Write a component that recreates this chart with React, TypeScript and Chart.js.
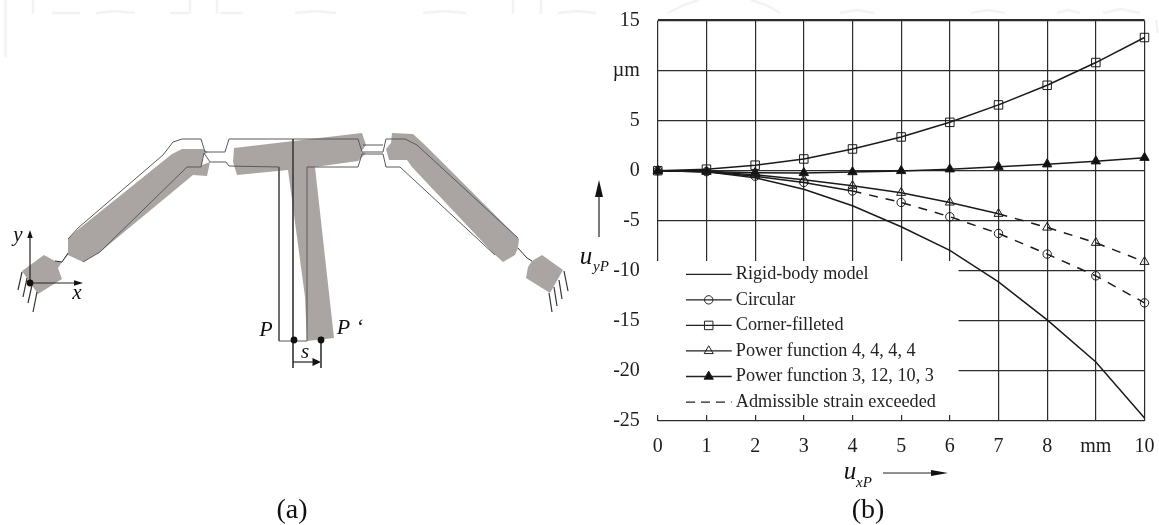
import React, { useEffect, useRef } from "react";
import { Chart, registerables } from "chart.js";
import { drawPoint } from "chart.js/helpers";

Chart.register(...registerables);

// ---- panel (b) data ----
const displacement = [0, 1, 2, 3, 4, 5, 6, 7, 8, 9, 10];
const rigidBody = [0, -0.1, -0.7, -1.85, -3.5, -5.6, -7.95, -11.1, -14.9, -19.1, -24.7];
const circular = [0, -0.1, -0.55, -1.17, -2.03, -3.17, -4.6, -6.27, -8.33, -10.5, -13.2];
const cornerFilleted = [0, 0.15, 0.55, 1.17, 2.17, 3.37, 4.83, 6.57, 8.53, 10.8, 13.3];
const power4444 = [0, -0.1, -0.4, -0.9, -1.5, -2.2, -3.17, -4.3, -5.67, -7.2, -9.1];
const power31210 = [0, -0.08, -0.2, -0.22, -0.13, -0.02, 0.15, 0.4, 0.65, 0.95, 1.3];
const xTickLabels = ["0", "1", "2", "3", "4", "5", "6", "7", "8", "mm", "10"];
const yTickLabels: Record<string, string> = { "15": "15", "10": "µm", "5": "5", "0": "0", "-5": "-5", "-10": "-10", "-15": "-15", "-20": "-20", "-25": "-25" };
const seriesNames = ["Rigid-body model", "Circular", "Corner-filleted", "Power function 4, 4, 4, 4", "Power function 3, 12, 10, 3", "Admissible strain exceeded"];
const circularLimit = 4;
const powerLimit = 7;

// ---- panel (a) schematic outlines, in picture units ----
type P = [number, number];
const greyBaseLeft: P[] = [[22, 271], [44, 255], [55, 261], [62, 262], [58, 268], [62, 279], [38, 294]];
const greyArmLeft: P[] = [[62, 262], [68, 253], [68, 239], [75, 232], [172, 154], [182, 149], [203, 149], [208, 152], [203, 155], [202, 165], [210, 162], [207, 176], [193, 175], [100, 252], [83, 262], [68, 255]];
const greyTee: P[] = [[234, 148], [362, 133], [366, 145], [361, 152], [366, 153], [358, 161], [315, 167], [334, 338], [307, 341], [305, 297], [288, 170], [237, 175], [233, 162]];
const greyArmRight: P[] = [[392, 133], [413, 134], [425, 145], [519, 239], [518, 248], [515, 255], [503, 262], [493, 253], [412, 167], [407, 160], [389, 160], [386, 149], [391, 143]];
const greyBaseRight: P[] = [[532, 261], [542, 255], [563, 270], [550, 293], [526, 278], [528, 267]];
const outlineUpper: P[] = [[68, 239], [78, 228], [163, 155], [173, 142], [182, 139], [201, 139], [205, 152], [225, 152], [229, 139], [358, 139], [362, 152], [383, 152], [386, 139], [405, 139], [417, 145], [518, 238]];
const outlineLower: P[] = [[83, 262], [100, 252], [187, 167], [201, 167], [204, 153], [210, 162], [226, 162], [229, 166], [279, 167], [279, 341], [307, 341], [307, 167], [358, 167], [362, 154], [383, 154], [386, 167], [400, 167], [495, 255]];
const neckRight: P[] = [[363, 145], [383, 145]];
const neckBaseLeft: P[] = [[55, 261], [62, 262], [68, 253]];
const neckBaseRight: P[] = [[518, 248], [527, 258], [532, 261]];
const stemCentre: P[] = [[293, 139], [293, 368]];
const stemEnd: P[] = [[321, 340], [321, 368]];
const hatchLines: P[][] = [
  [[22, 272], [18, 290]], [[27, 278], [23, 297]], [[32, 285], [28, 303]], [[37, 292], [33, 312]],
  [[564, 271], [568, 291]], [[559, 280], [562, 299]], [[554, 287], [557, 306]], [[549, 293], [552, 312]],
];
const arrowShafts: P[][] = [
  [[30, 283], [30, 236]], [[30, 283], [76, 283]], [[293, 362], [315, 362]], [[599, 237], [599, 195]], [[883, 473], [933, 473]],
];
const arrowHeads: P[][] = [
  [[30, 230], [27.3, 238], [32.7, 238]],
  [[83, 283], [74, 280.3], [74, 285.7]],
  [[321, 362], [312.5, 358], [312.5, 366]],
  [[599, 180], [595, 197], [603, 197]],
  [[948, 473], [931, 470], [931, 476]],
];
const pivotDots: P[] = [[30, 283], [294, 340], [321, 340]];
const watermarkLines: P[][] = [
  [[5.5, 0], [5.5, 57]], [[33, 0], [33, 14]], [[190, 0], [190, 14]], [[217, 0], [217, 14]], [[513, 0], [513, 14]], [[541, 0], [541, 14]],
  [[52, 13], [80, 13]], [[96, 13], [115, 11], [135, 13]], [[170, 13], [190, 13]], [[220, 13], [243, 13]], [[295, 13], [315, 11], [336, 13]], [[423, 13], [445, 11], [466, 13]], [[558, 13], [577, 11], [596, 13]],
  [[668, 13], [684, 5], [699, 0]], [[751, 0], [766, 5], [780, 13]], [[840, 13], [857, 10], [874, 13]], [[971, 13], [988, 10], [1005, 13]], [[1057, 13], [1068, 10], [1080, 13]], [[1103, 13], [1121, 9], [1140, 13]], [[1156, 20], [1158, 33]],
];

const SERIF = '"Liberation Serif", serif';
const INK = "#1c1c1c";

const toXY = (pts: P[]) => pts.map(([x, y]) => ({ x, y }));

function diagramDatasets(): any[] {
  const line = (pts: P[], color = "#5a5a5a", width = 1) => ({
    data: toXY(pts), showLine: true, borderColor: color, borderWidth: width, pointRadius: 0, tension: 0, fill: false,
  });
  const shape = (pts: P[], color: string) => ({ data: toXY(pts), showLine: false, pointRadius: 0, polygonFill: color });
  return [
    { data: toXY(pivotDots), showLine: false, pointRadius: 3.4, pointBackgroundColor: "#111", pointBorderWidth: 0 },
    ...arrowShafts.map((a) => line(a, "#222", 1.2)),
    ...arrowHeads.map((a) => shape(a, "#111")),
    line(stemCentre, "#444"), line(stemEnd, "#444"),
    ...hatchLines.map((h) => line(h, "#333", 1.2)),
    line(outlineUpper), line(outlineLower), line(neckRight), line(neckBaseLeft, "#333"), line(neckBaseRight, "#333"),
    ...watermarkLines.map((w) => line(w, "#f3f3f3", 2.5)),
    shape(greyBaseLeft, "#aaa5a3"), shape(greyArmLeft, "#aaa5a3"), shape(greyTee, "#aaa5a3"), shape(greyArmRight, "#aaa5a3"), shape(greyBaseRight, "#aaa5a3"),
  ];
}

const diagramLabels = [
  { text: "y", x: 18, y: 235, font: `italic 21px ${SERIF}` },
  { text: "x", x: 77, y: 293, font: `italic 21px ${SERIF}` },
  { text: "P", x: 266, y: 330, font: `italic 22px ${SERIF}` },
  { text: "P ‘", x: 350, y: 328, font: `italic 22px ${SERIF}` },
  { text: "s", x: 305, y: 352, font: `italic 21px ${SERIF}` },
  { text: "(a)", x: 292, y: 511, font: `28px ${SERIF}` },
  { text: "(b)", x: 868, y: 511, font: `28px ${SERIF}` },
  { text: "u", x: 850, y: 472, font: `italic 25px ${SERIF}` },
  { text: "xP", x: 864, y: 483, font: `italic 15px ${SERIF}` },
  { text: "u", x: 586, y: 257, font: `italic 25px ${SERIF}` },
  { text: "yP", x: 601, y: 267, font: `italic 15px ${SERIF}` },
];

const polygonPlugin = {
  id: "polygonFill",
  beforeDatasetsDraw(chart: any) {
    const { ctx } = chart;
    ctx.save();
    chart.data.datasets.forEach((ds: any, i: number) => {
      if (!ds.polygonFill) return;
      const pts = chart.getDatasetMeta(i).data;
      ctx.fillStyle = ds.polygonFill;
      ctx.beginPath();
      pts.forEach((p: any, k: number) => (k ? ctx.lineTo(p.x, p.y) : ctx.moveTo(p.x, p.y)));
      ctx.closePath();
      ctx.fill();
    });
    ctx.restore();
  },
};

const diagramTextPlugin = {
  id: "diagramText",
  afterDatasetsDraw(chart: any) {
    const { ctx, scales } = chart;
    ctx.save();
    ctx.fillStyle = "#111";
    ctx.textAlign = "center";
    ctx.textBaseline = "middle";
    for (const l of diagramLabels) {
      ctx.font = l.font;
      ctx.fillText(l.text, scales.x.getPixelForValue(l.x), scales.y.getPixelForValue(l.y));
    }
    ctx.restore();
  },
};

const legendPlugin = {
  id: "insetLegend",
  beforeDatasetsDraw(chart: any) {
    const { ctx } = chart;
    ctx.save();
    ctx.fillStyle = "#fff";
    ctx.fillRect(653, 261, 305.6, 154);
    const rowH = 25.55;
    chart.data.datasets.forEach((ds: any, i: number) => {
      const y = 274.3 + i * rowH;
      ctx.strokeStyle = "#222";
      ctx.lineWidth = 1.3;
      ctx.setLineDash(ds.legendDash || []);
      ctx.beginPath();
      ctx.moveTo(686, y);
      ctx.lineTo(731.7, y);
      ctx.stroke();
      ctx.setLineDash([]);
      if (ds.pointRadius > 0) {
        ctx.lineWidth = 1;
        ctx.fillStyle = ds.pointBackgroundColor;
        drawPoint(ctx, { pointStyle: ds.pointStyle, radius: ds.pointRadius, borderWidth: 1, rotation: 0 } as any, 708.7, y);
      }
      ctx.fillStyle = "#222";
      ctx.font = `18.2px ${SERIF}`;
      ctx.textAlign = "left";
      ctx.textBaseline = "middle";
      ctx.fillText(ds.label, 735.8, y);
    });
    ctx.restore();
  },
};

const dashAfter = (limit: number) => ({
  borderDash: (c: any) => (c.p0.parsed.x >= limit ? [9, 8] : undefined),
});

export default function App() {
  const plotRef = useRef<HTMLCanvasElement>(null);
  const diagramRef = useRef<HTMLCanvasElement>(null);

  useEffect(() => {
    const diagram = new Chart(diagramRef.current!, {
      type: "scatter",
      data: { datasets: diagramDatasets() },
      options: {
        animation: false, responsive: false,
        layout: { padding: 0, autoPadding: false },
        plugins: { legend: { display: false }, tooltip: { enabled: false } },
        scales: {
          x: { type: "linear", min: 0, max: 1159, display: false },
          y: { type: "linear", min: 0, max: 525, reverse: true, display: false },
        },
      },
      plugins: [polygonPlugin, diagramTextPlugin],
    } as any);

    const base = { borderColor: "#1a1a1a", borderWidth: 1.5, tension: 0, clip: false, fill: false, pointBorderColor: "#1a1a1a", pointBorderWidth: 1, pointBackgroundColor: "rgba(255,255,255,0)" };
    const pairs = (ys: number[]) => ys.map((y, i) => ({ x: displacement[i], y }));
    const plot = new Chart(plotRef.current!, {
      type: "line",
      data: {
        labels: displacement,
        datasets: [
          { ...base, label: seriesNames[0], data: pairs(rigidBody), pointRadius: 0 },
          { ...base, label: seriesNames[1], data: pairs(circular), pointStyle: "circle", pointRadius: 4.2, segment: dashAfter(circularLimit) },
          { ...base, label: seriesNames[2], data: pairs(cornerFilleted), pointStyle: "rect", pointRadius: 6 },
          { ...base, label: seriesNames[3], data: pairs(power4444), pointStyle: "triangle", pointRadius: 5.2, segment: dashAfter(powerLimit) },
          { ...base, label: seriesNames[4], data: pairs(power31210), pointStyle: "triangle", pointRadius: 5.4, pointBackgroundColor: "#111" },
          { ...base, label: seriesNames[5], data: [], pointRadius: 0, legendDash: [9, 6] },
        ],
      },
      options: {
        animation: false, responsive: false,
        layout: { padding: { left: 0, right: 14.5, top: 20.5, bottom: 0 }, autoPadding: false },
        plugins: { legend: { display: false }, tooltip: { enabled: false } },
        scales: {
          x: {
            type: "linear", min: 0, max: 10,
            afterFit: (s: any) => { s.height = 104; s.paddingLeft = 0; s.paddingRight = 0; },
            grid: { color: "#2e2b2a", lineWidth: 1.2, drawTicks: false },
            border: { display: false },
            ticks: {
              stepSize: 1, padding: 14, maxRotation: 0, autoSkip: false, color: INK,
              font: { family: "Liberation Serif", size: 20 },
              callback: (v: any) => xTickLabels[v],
            },
          },
          y: {
            type: "linear", min: -25, max: 15,
            afterFit: (s: any) => { s.width = 657.8; s.paddingTop = 0; s.paddingBottom = 0; },
            grid: {
              color: "#2e2b2a", drawTicks: false,
              lineWidth: (c: any) => (c.tick && c.tick.value === 15 ? 2.2 : 1.2),
            },
            border: { display: false },
            ticks: {
              stepSize: 5, padding: 18, color: INK,
              font: { family: "Liberation Serif", size: 20 },
              callback: (v: any) => yTickLabels[String(v)],
            },
          },
        },
      },
      plugins: [legendPlugin],
    } as any);

    return () => { plot.destroy(); diagram.destroy(); };
  }, []);

  const layer: React.CSSProperties = { position: "fixed", left: 0, top: 0, width: 1159, height: 525, display: "block" };
  return (
    <div style={{ position: "fixed", inset: 0, background: "#fff" }}>
      <canvas ref={diagramRef} width={1159} height={525} style={layer} />
      <canvas ref={plotRef} width={1159} height={525} style={layer} />
    </div>
  );
}
